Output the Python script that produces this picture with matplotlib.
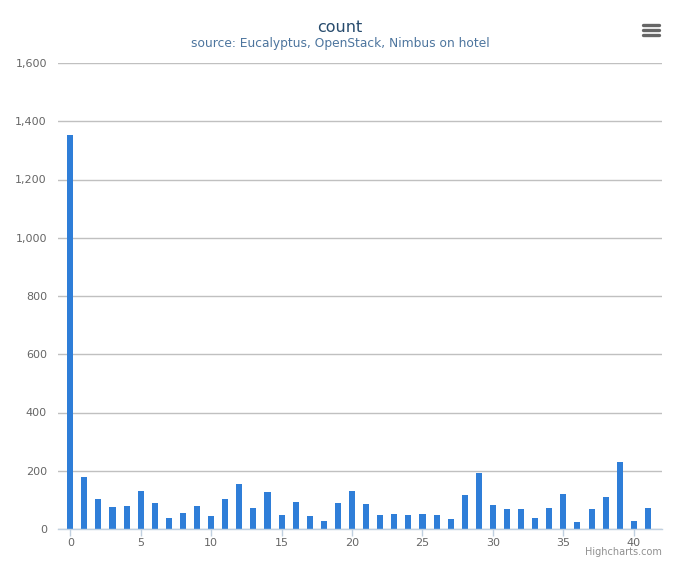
import numpy as np
import matplotlib
matplotlib.use('Agg')
import matplotlib.pyplot as plt
from matplotlib.lines import Line2D

# bar counts, index 0..41
categories = list(range(42))
counts = [1352, 180, 104, 76, 80, 132, 90, 38, 55, 80,
          45, 104, 153, 73, 128, 49, 94, 45, 28, 90,
          132, 87, 49, 52, 49, 52, 49, 35, 118, 191,
          83, 69, 69, 38, 73, 121, 24, 69, 111, 229,
          28, 73]
y_ticks = [0, 200, 400, 600, 800, 1000, 1200, 1400, 1600]
x_ticks = [0, 5, 10, 15, 20, 25, 30, 35, 40]

title = 'count'
subtitle = 'source: Eucalyptus, OpenStack, Nimbus on hotel'

plt.rcParams['font.family'] = ['DejaVu Sans']

W, H = 680, 566
fig = plt.figure(figsize=(W / 100, H / 100), dpi=100)
ax = fig.add_axes([58 / W, (H - 529) / H, (662 - 58) / W, (529 - 63) / H])

ax.bar(categories, counts, width=0.43, color='#2f7ed8', zorder=3)

ax.set_xlim(-0.87, 42.0)
ax.set_ylim(0, 1600)
ax.set_yticks(y_ticks)
ax.set_yticklabels([f'{v:,}' for v in y_ticks])
ax.set_xticks(x_ticks)

# grid and axes
ax.yaxis.grid(True, color='#c0c0c0', linewidth=1)
ax.set_axisbelow(True)
for side in ['top', 'right', 'left']:
    ax.spines[side].set_visible(False)
ax.spines['bottom'].set_color('#c0d0e0')
ax.spines['bottom'].set_linewidth(1)
ax.spines['bottom'].set_zorder(4)
ax.tick_params(axis='y', length=0, pad=8, labelsize=8, labelcolor='#666666')
ax.tick_params(axis='x', length=5, width=1, color='#c0d0e0', pad=1.5,
               labelsize=8, labelcolor='#666666')

# titles
fig.text(0.5, 1 - 28 / H, title, ha='center', va='center',
         fontsize=11.5, color='#274b6d')
fig.text(0.5, 1 - 44 / H, subtitle, ha='center', va='center',
         fontsize=8.8, color='#4d759e')

# export menu icon
for yy in [24.5, 29.5, 34.5]:
    fig.add_artist(Line2D([643 / W, 659 / W], [1 - yy / H, 1 - yy / H],
                          color='#666666', linewidth=2.4, solid_capstyle='round'))

# credits
fig.text(662 / W, 1 - 557 / H, 'Highcharts.com', ha='right', va='bottom',
         fontsize=7, color='#909090')

fig.savefig('out.png', dpi=100)
